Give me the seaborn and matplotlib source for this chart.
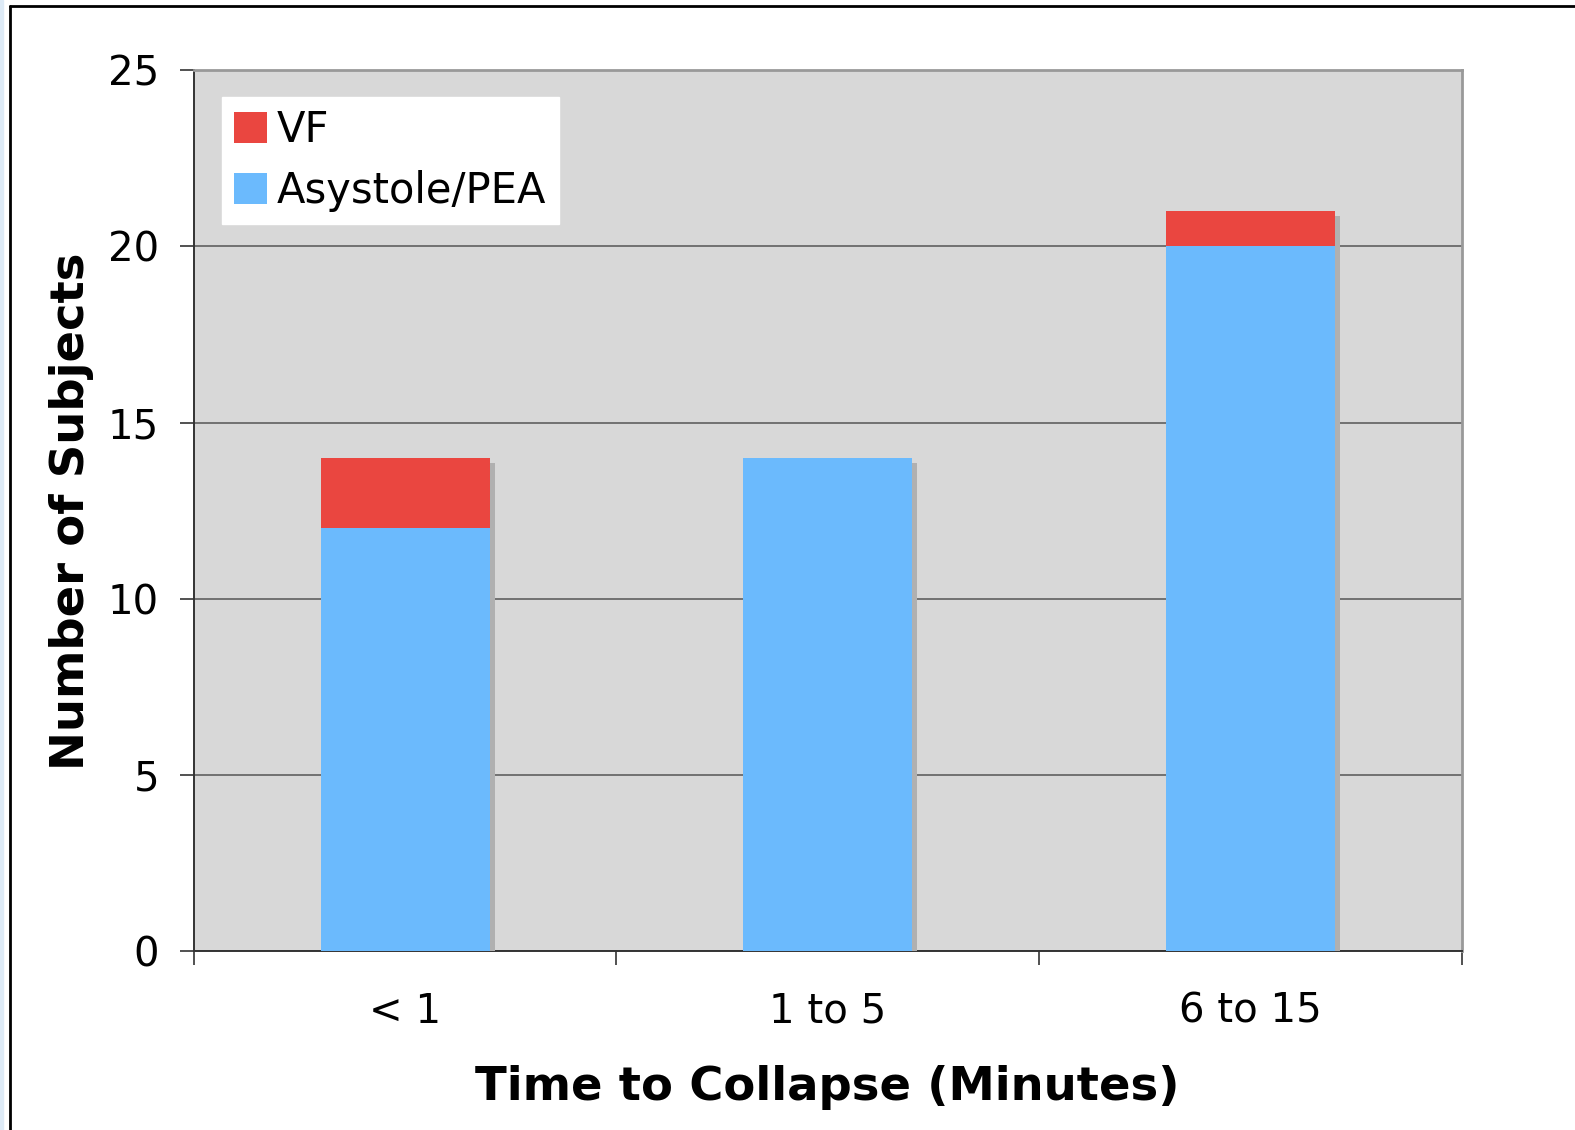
import matplotlib
matplotlib.use("Agg")
import matplotlib.pyplot as plt
import matplotlib.patheffects as pe
from matplotlib.lines import Line2D
from matplotlib.patches import Patch, Rectangle
import seaborn as sns
import pandas as pd

categories = ["< 1", "1 to 5", "6 to 15"]
vf = [2, 0, 1]
asystole = [12, 14, 20]
yticks = [0, 5, 10, 15, 20, 25]

red = "#EA4640"
blue = "#6BBAFD"

sns.set_theme(style="white")
plt.rcParams['font.family'] = ['DejaVu Sans']

df = pd.DataFrame({"cat": categories, "vf": vf, "asy": asystole})
df["total"] = df["vf"] + df["asy"]

fig = plt.figure(figsize=(15.75, 11.3), dpi=100)
ax = fig.add_axes([0.123, 0.158, 0.805, 0.780])
ax.set_facecolor("#D8D8D8")

sns.barplot(data=df, x="cat", y="total", color=red, width=0.4, ax=ax,
            saturation=1, linewidth=0, zorder=3)
for p in ax.patches:
    p.set_path_effects([pe.SimplePatchShadow(offset=(3.6, -3.6), shadow_rgbFace="#B0B0B0", alpha=1.0),
                        pe.Normal()])
sns.barplot(data=df, x="cat", y="asy", color=blue, width=0.4, ax=ax,
            saturation=1, linewidth=0, zorder=4)

ax.set_xlim(-0.5, 2.5)
ax.set_ylim(0, 25)
ax.set_yticks(yticks)
ax.set_yticklabels([str(t) for t in yticks])
ax.yaxis.grid(True, color="#555555", linewidth=1.1, zorder=1)
ax.set_axisbelow(True)

ax.set_xticks(range(len(categories)))
ax.set_xticklabels(categories)
ax.set_xticks([-0.5, 0.5, 1.5, 2.5], minor=True)
ax.tick_params(axis="x", which="major", length=0, pad=29, labelsize=29, colors="black")
ax.tick_params(axis="x", which="minor", length=10, width=1.2, color="#333333", direction="out", bottom=True)
ax.tick_params(axis="y", length=10, width=1.2, color="#333333", direction="out", left=True,
               pad=15, labelsize=29, labelcolor="black")

for s in ["left", "bottom"]:
    ax.spines[s].set_color("#333333")
    ax.spines[s].set_linewidth(1.4)
for s in ["top", "right"]:
    ax.spines[s].set_color("#999999")
    ax.spines[s].set_linewidth(2)
    ax.spines[s].set_visible(True)

ax.set_xlabel("Time to Collapse (Minutes)", fontsize=33.5, fontweight="bold", labelpad=24, color="black")
ax.set_ylabel("Number of Subjects", fontsize=33.5, fontweight="bold", labelpad=10, color="black")

handles = [Patch(facecolor=red, edgecolor="none"), Patch(facecolor=blue, edgecolor="none")]
leg = ax.legend(handles, ["VF", "Asystole/PEA"], loc="upper left", bbox_to_anchor=(0.022, 0.97),
                fontsize=30, frameon=True, fancybox=False, framealpha=1, edgecolor="white",
                facecolor="white", handlelength=0.78, handleheight=0.78, handletextpad=0.25,
                labelspacing=0.45, borderpad=0.3, borderaxespad=0)
leg.set_zorder(10)
for t in leg.get_texts():
    t.set_color("black")

# outer frame (spreadsheet chart border)
fig.add_artist(Rectangle((0, 0), 0.002, 1, transform=fig.transFigure, color="#DDEAF6", zorder=0))
fig.add_artist(Line2D([0.0065, 0.0065], [0, 0.995], transform=fig.transFigure, color="black", linewidth=2))
fig.add_artist(Line2D([0.0065, 1.0], [0.995, 0.995], transform=fig.transFigure, color="black", linewidth=2))

fig.savefig("out.png", dpi=100, facecolor="white")
